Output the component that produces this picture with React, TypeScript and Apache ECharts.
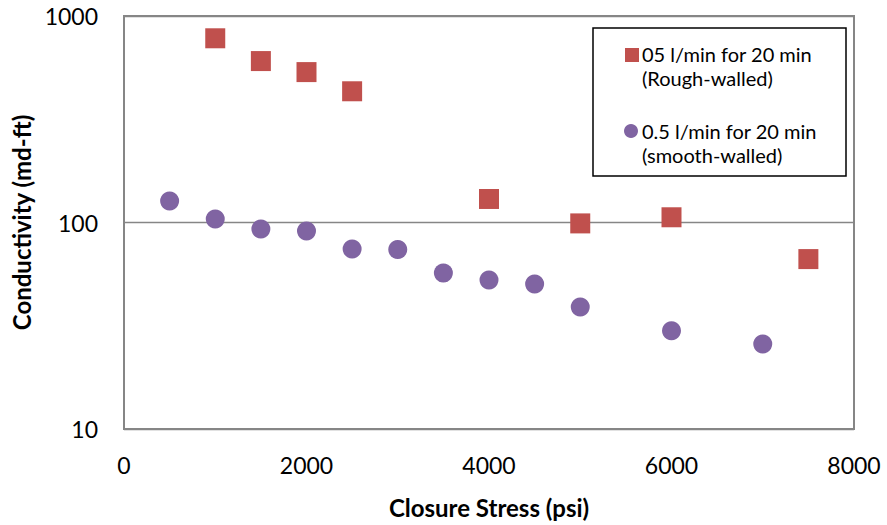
import React, { useEffect, useRef } from "react";
import * as echarts from "echarts";

// Closure stress (psi) and conductivity (md-ft) for the two fracture types
const roughStress = [1000, 1500, 2000, 2500, 4000, 5000, 6000, 7500];
const roughConductivity = [780, 605, 535, 432, 130, 99, 106, 66.5];

const smoothStress = [500, 1000, 1500, 2000, 2500, 3000, 3500, 4000, 4500, 5000, 6000, 7000];
const smoothConductivity = [127, 104, 93, 91, 74.5, 74, 57, 52.7, 50.4, 39, 29.9, 25.8];

const xTicks = [0, 2000, 4000, 6000, 8000];
const yTicks = [10, 100, 1000];

const roughName = "05 l/min for 20 min\n(Rough-walled)";
const smoothName = "0.5 l/min for 20 min\n(smooth-walled)";

const RED = "#C0504D";
const PURPLE = "#8064A2";
const FONT = "Lato, 'Open Sans', sans-serif";

export default function App() {
  const ref = useRef<HTMLDivElement>(null);

  useEffect(() => {
    document.body.style.margin = "0";
    if (!ref.current) return;
    const chart = echarts.init(ref.current, null, { renderer: "svg" });

    chart.setOption({
      animation: false,
      backgroundColor: "#fff",
      textStyle: { fontFamily: FONT },
      grid: {
        left: 124,
        top: 16,
        right: 33,
        bottom: 96,
        show: true,
        borderColor: "#868686",
        borderWidth: 2,
      },
      xAxis: {
        type: "value",
        min: xTicks[0],
        max: xTicks[xTicks.length - 1],
        interval: 2000,
        name: "Closure Stress (psi)",
        nameLocation: "middle",
        nameGap: 66,
        nameTextStyle: { fontFamily: FONT, fontWeight: "bold", fontSize: 24, color: "#000" },
        axisLine: { show: false },
        axisTick: { show: false },
        splitLine: { show: false },
        axisLabel: {
          fontFamily: FONT,
          fontSize: 23,
          color: "#000",
          margin: 24,
          formatter: (v: number) => String(v),
        },
      },
      yAxis: {
        type: "log",
        logBase: 10,
        min: yTicks[0],
        max: yTicks[yTicks.length - 1],
        name: "Conductivity (md-ft)",
        nameLocation: "middle",
        nameGap: 84,
        nameTextStyle: { fontFamily: FONT, fontWeight: "bold", fontSize: 24, color: "#000" },
        axisLine: { show: false },
        axisTick: { show: false },
        minorTick: { show: false },
        splitLine: { show: true, lineStyle: { color: "#868686", width: 1.3 } },
        axisLabel: {
          fontFamily: FONT,
          fontSize: 23,
          color: "#000",
          margin: 26,
          formatter: (v: number) => String(v),
        },
      },
      series: [
        {
          name: roughName,
          type: "scatter",
          symbol: "rect",
          symbolSize: 20,
          itemStyle: { color: RED, opacity: 1 },
          data: roughStress.map((x, i) => [x, roughConductivity[i]]),
        },
        {
          name: smoothName,
          type: "scatter",
          symbol: "circle",
          symbolSize: 19,
          itemStyle: { color: PURPLE, opacity: 1 },
          data: smoothStress.map((x, i) => [x, smoothConductivity[i]]),
        },
      ],
      graphic: [
        {
          type: "rect",
          shape: { x: 593, y: 28, width: 253, height: 148 },
          style: { fill: "#fff", stroke: "#000", lineWidth: 1.5 },
          z: 10,
        },
        {
          type: "rect",
          shape: { x: 625, y: 48, width: 14, height: 14 },
          style: { fill: RED },
          z: 11,
        },
        {
          type: "text",
          x: 642,
          y: 42,
          style: {
            text: roughName,
            fontFamily: FONT,
            fontSize: 20,
            lineHeight: 24,
            fill: "#000",
            verticalAlign: "top",
          },
          z: 11,
          silent: true,
        },
        {
          type: "circle",
          shape: { cx: 631, cy: 131, r: 7 },
          style: { fill: PURPLE },
          z: 11,
        },
        {
          type: "text",
          x: 642,
          y: 119,
          style: {
            text: smoothName,
            fontFamily: FONT,
            fontSize: 20,
            lineHeight: 24,
            fill: "#000",
            verticalAlign: "top",
          },
          z: 11,
          silent: true,
        },
      ],
    });

    return () => chart.dispose();
  }, []);

  return <div ref={ref} style={{ width: 887, height: 525 }} />;
}
